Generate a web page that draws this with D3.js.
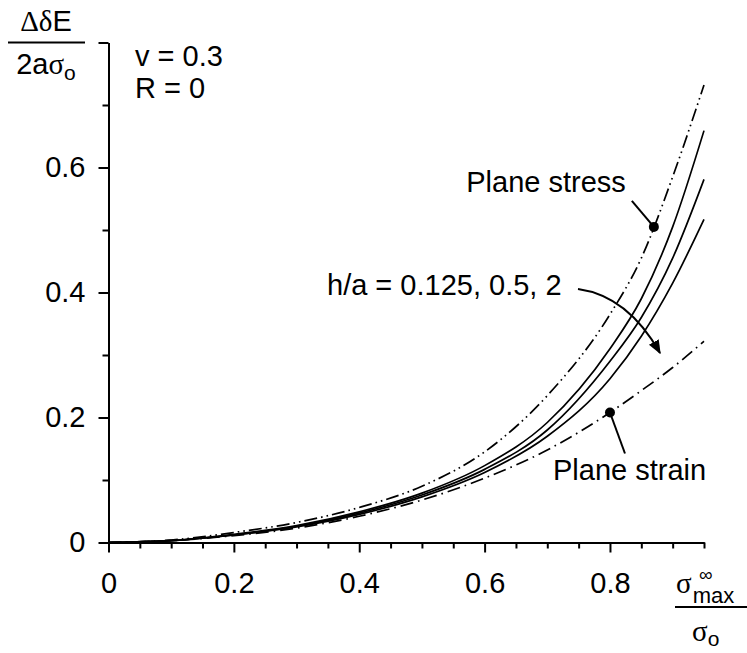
<!DOCTYPE html>
<html>
<head>
<meta charset="utf-8">
<script src="https://cdn.jsdelivr.net/npm/d3@7"></script>
<style>
  body { margin: 0; background: #fff; }
  svg { display: block; }
  text { font-family: "Liberation Sans", Arial, sans-serif; fill: #000; }
  .greek { font-family: "Liberation Serif", "DejaVu Serif", serif; }
</style>
</head>
<body>
<div id="chart"></div>
<script>
// stress ratio sigma_max / sigma_o
const sRatio = [0, 0.1, 0.2, 0.3, 0.4, 0.5, 0.6, 0.7, 0.8, 0.85, 0.9, 0.95];

// normalised crack opening range
const planeStress = [0, 0.004, 0.016, 0.032, 0.056, 0.09, 0.145, 0.235, 0.365, 0.455, 0.585, 0.732];
const planeStrain = [0, 0.003, 0.011, 0.023, 0.042, 0.068, 0.103, 0.148, 0.208, 0.243, 0.28, 0.322];
const ha0125 = [0, 0.003, 0.013, 0.027, 0.049, 0.079, 0.123, 0.192, 0.31, 0.39, 0.505, 0.659];
const ha05 = [0, 0.003, 0.012, 0.026, 0.047, 0.076, 0.117, 0.18, 0.29, 0.36, 0.455, 0.581];
const ha2 = [0, 0.003, 0.012, 0.025, 0.045, 0.073, 0.112, 0.17, 0.262, 0.33, 0.415, 0.517];

const xMajor = [0, 0.2, 0.4, 0.6, 0.8];
const xMinor = [0.05, 0.1, 0.15, 0.25, 0.3, 0.35, 0.45, 0.5, 0.55, 0.65, 0.7, 0.75, 0.85, 0.9, 0.95];
const yMajor = [0, 0.2, 0.4, 0.6, 0.8];
const yMinor = [0.1, 0.3, 0.5, 0.7];
const yLabels = ["0", "0.2", "0.4", "0.6", ""];

// marked points on the two bounding curves
const stressDot = [0.87, 0.505];
const strainDot = [0.8, 0.208];

const W = 747, H = 653;
const svg = d3.select("#chart").append("svg")
    .attr("width", W)
    .attr("height", H);

const x = d3.scaleLinear().domain([0, 0.95]).range([108.5, 704]);
const y = d3.scaleLinear().domain([0, 0.8]).range([542.5, 42.5]);

// axes: minor ticks first, then major ones with labels
const styleAxis = g => {
    g.selectAll("path, line").attr("stroke", "#000").attr("stroke-width", 2);
    g.selectAll("text").style("font-size", "29px").attr("fill", "#000");
};

svg.append("g")
    .attr("transform", `translate(0,${y(0)})`)
    .call(d3.axisBottom(x).tickValues(xMinor).tickSize(6).tickFormat("").tickSizeOuter(0))
    .call(styleAxis);
svg.append("g")
    .attr("transform", `translate(0,${y(0)})`)
    .call(d3.axisBottom(x).tickValues(xMajor).tickSize(10).tickPadding(20).tickSizeOuter(0)
        .tickFormat(d => d === 0 ? "0" : d3.format(".1f")(d)))
    .call(styleAxis);

svg.append("g")
    .attr("transform", `translate(${x(0)},0)`)
    .call(d3.axisLeft(y).tickValues(yMinor).tickSize(6).tickFormat("").tickSizeOuter(0))
    .call(styleAxis);
svg.append("g")
    .attr("transform", `translate(${x(0)},0)`)
    .call(d3.axisLeft(y).tickValues(yMajor).tickSize(10).tickPadding(13).tickSizeOuter(0)
        .tickFormat((d, i) => yLabels[i]))
    .call(styleAxis);

// curves
const line = d3.line()
    .x(d => x(d[0]))
    .y(d => y(d[1]))
    .curve(d3.curveMonotoneX);

const series = [
    { values: planeStress, dash: "13,4,1.6,4,1.6,4" },
    { values: planeStrain, dash: "13,5,1.6,5" },
    { values: ha0125, dash: null },
    { values: ha05, dash: null },
    { values: ha2, dash: null }
];

series.forEach(s => {
    svg.append("path")
        .datum(sRatio.map((v, i) => [v, s.values[i]]))
        .attr("d", line)
        .attr("fill", "none")
        .attr("stroke", "#000")
        .attr("stroke-width", 1.7)
        .attr("stroke-dasharray", s.dash);
});

// annotations
const ann = svg.append("g");

// plane stress
const sdx = x(stressDot[0]), sdy = y(stressDot[1]);
ann.append("line")
    .attr("x1", sdx - 22).attr("y1", sdy - 26)
    .attr("x2", sdx).attr("y2", sdy)
    .attr("stroke", "#000").attr("stroke-width", 2);
ann.append("circle").attr("cx", sdx).attr("cy", sdy).attr("r", 5);
ann.append("text")
    .attr("x", sdx - 28).attr("y", sdy - 35)
    .attr("text-anchor", "end")
    .style("font-size", "29px")
    .text("Plane stress");

// plane strain
const pdx = x(strainDot[0]), pdy = y(strainDot[1]);
ann.append("line")
    .attr("x1", pdx).attr("y1", pdy)
    .attr("x2", pdx + 15).attr("y2", pdy + 41)
    .attr("stroke", "#000").attr("stroke-width", 2);
ann.append("circle").attr("cx", pdx).attr("cy", pdy).attr("r", 5);
ann.append("text")
    .attr("x", pdx - 57).attr("y", pdy + 67)
    .style("font-size", "29px")
    .text("Plane strain");

// h/a label with curved arrow
svg.append("defs").append("marker")
    .attr("id", "arrow")
    .attr("viewBox", "0 0 10 10")
    .attr("refX", 9).attr("refY", 5)
    .attr("markerWidth", 14).attr("markerHeight", 14)
    .attr("markerUnits", "userSpaceOnUse")
    .attr("orient", "auto")
    .append("path")
    .attr("d", "M0,1 L10,5 L0,9 Z")
    .attr("fill", "#000");

ann.append("text")
    .attr("x", 327).attr("y", 295)
    .style("font-size", "29px")
    .text("h/a = 0.125, 0.5, 2");
ann.append("path")
    .attr("d", "M578,289 Q628,296 660,353")
    .attr("fill", "none")
    .attr("stroke", "#000")
    .attr("stroke-width", 2)
    .attr("marker-end", "url(#arrow)");

// parameters
ann.append("text").attr("x", 135).attr("y", 66).style("font-size", "29px").text("v = 0.3");
ann.append("text").attr("x", 135).attr("y", 98).style("font-size", "29px").text("R = 0");

// y axis title: ΔδE / 2aσo
const yt = svg.append("g");
const num = yt.append("text").attr("x", 46).attr("y", 31).attr("text-anchor", "middle").style("font-size", "29px");
num.append("tspan").attr("class", "greek").text("Δδ");
num.append("tspan").text("E");
yt.append("line").attr("x1", 8).attr("x2", 85).attr("y1", 42.5).attr("y2", 42.5)
    .attr("stroke", "#000").attr("stroke-width", 2);
const den = yt.append("text").attr("x", 46).attr("y", 74).attr("text-anchor", "middle").style("font-size", "29px");
den.append("tspan").text("2a");
den.append("tspan").attr("class", "greek").text("σ");
den.append("tspan").attr("dy", 6).style("font-size", "21px").text("o");

// x axis title: σmax∞ / σo
const xt = svg.append("g");
const xn = xt.append("text").attr("x", 676).attr("y", 593).style("font-size", "29px");
xn.append("tspan").attr("class", "greek").text("σ");
xn.append("tspan").attr("dx", 1).attr("dy", 10).style("font-size", "22px").text("max");
xt.append("text").attr("x", 699).attr("y", 581).style("font-size", "19px").text("∞");
xt.append("line").attr("x1", 675).attr("x2", 747).attr("y1", 607).attr("y2", 607)
    .attr("stroke", "#000").attr("stroke-width", 2);
const xd = xt.append("text").attr("x", 692).attr("y", 641).style("font-size", "29px");
xd.append("tspan").attr("class", "greek").text("σ");
xd.append("tspan").attr("dy", 5).style("font-size", "21px").text("o");
</script>
</body>
</html>
